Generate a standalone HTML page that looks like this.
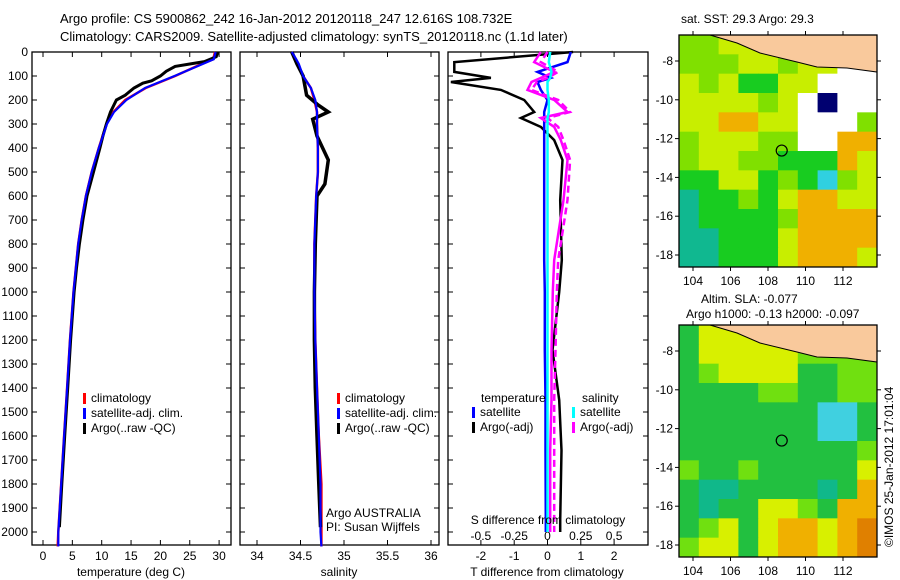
<!DOCTYPE html>
<html><head><meta charset="utf-8">
<style>
html,body{margin:0;padding:0;background:#fff;}
svg{display:block;font-family:"Liberation Sans",sans-serif;}
text{font-size:12px;fill:#000;}
</style></head>
<body>
<svg id="fig" width="900" height="580" viewBox="0 0 900 580">
<text x="60" y="23" style="font-size:13px">Argo profile: CS 5900862_242 16-Jan-2012 20120118_247 12.616S 108.732E</text>
<text x="60" y="41" style="font-size:13px">Climatology: CARS2009. Satellite-adjusted climatology: synTS_20120118.nc (1.1d later)</text>
<g id="g1"></g>
<g id="g2"></g>
<g id="g3"></g>
<g id="m1"></g>
<g id="m2"></g>
<text x="681" y="23">sat. SST: 29.3 Argo: 29.3</text>
<text x="701" y="303">Altim. SLA: -0.077</text>
<text x="686" y="318">Argo h1000: -0.13 h2000: -0.097</text>
<text transform="translate(893,547) rotate(-90)">©IMOS 25-Jan-2012 17:01:04</text>
</svg>
<script>
// ---------- data ----------
const depthTicks=[0,100,200,300,400,500,600,700,800,900,1000,1100,1200,1300,1400,1500,1600,1700,1800,1900,2000];
const tempTicks=[0,5,10,15,20,25,30];
const salTicks=[34,34.5,35,35.5,36];
const salTickLabels=["34","34.5","35","35.5","36"];
const tdiffTicks=[-2,-1,0,1,2];
const sdiffTicks=[-0.5,-0.25,0,0.25,0.5];
const sdiffTickLabels=["-0.5","-0.25","0","0.25","0.5"];

const argoDepth=[0,20,40,50,60,80,100,120,130,150,180,200,250,300,350,400,500,600,700,800,900,1000,1200,1400,1600,1800,1980];
const argoTemp=[29.8,29.5,27.5,25,22.5,21,20,18.5,17,15.5,14,12.5,11.5,10.8,10.2,9.7,8.6,7.5,6.8,6.2,5.7,5.3,4.7,4.2,3.7,3.2,2.8];
const climDepth=[0,30,50,100,150,200,250,300,400,500,600,700,800,1000,1200,1400,1600,1800,2000,2060];
const climTemp=[29.3,29,27,22.5,17.5,14,12,10.8,9.5,8.3,7.3,6.6,6.0,5.2,4.6,4.1,3.6,3.1,2.6,2.5];
const satTemp=[29.4,29.1,27.2,22.4,17.4,14.2,12.1,10.9,9.5,8.3,7.3,6.6,6.0,5.2,4.6,4.1,3.6,3.1,2.6,2.6];

const argoSalDepth=[0,50,100,180,220,250,280,350,450,550,600,800,1000,1200,1400,1600,1800,1980];
const argoSal=[34.40,34.46,34.53,34.57,34.70,34.82,34.64,34.69,34.82,34.78,34.69,34.67,34.66,34.66,34.67,34.69,34.71,34.73];
const climSal=[34.40,34.44,34.47,34.53,34.62,34.66,34.69,34.69,34.70,34.70,34.68,34.67,34.66,34.66,34.67,34.69,34.71,34.74,34.74,34.74];
const satSal=[34.40,34.45,34.48,34.53,34.62,34.67,34.69,34.69,34.70,34.70,34.68,34.67,34.66,34.66,34.67,34.69,34.71,34.73,34.73,34.74];

const diffDepth=[0,42,83,108,125,158,200,250,275,312,367,450,617,867,1000,1242,1450,1660,1950,2000];
const argoTdiff=[0.77,-2.8,-2.8,-1.7,-2.9,-1.4,-0.7,-0.4,-0.8,-0.2,0.2,0.45,0.38,0.43,0.35,0.15,0.35,0.42,0.38,0.38];
const satTdiff=[0.7,0.6,-0.3,0.1,-0.3,-0.2,0,-0.1,-0.1,-0.1,-0.1,-0.1,-0.1,-0.1,-0.08,-0.08,-0.06,-0.06,-0.05,-0.05];
const argoSdiff=[-0.05,-0.1,0.05,-0.05,-0.12,-0.15,0.05,0.15,-0.05,0.05,0.1,0.15,0.12,0.05,0.04,0.03,0.03,0.02,0.02,0.02];
const argoSdiffAdj=[0,-0.05,0.08,0,-0.08,-0.12,0.08,0.17,0,0.08,0.12,0.17,0.15,0.08,0.07,0.06,0.05,0.05,0.05,0.05];
const satSdiff=[0.02,0.01,0.03,0.02,0,0,0.01,0.01,0,0,0,0,0,0,0,0,0,0,0,0];

// map colour grids (letters -> palette)
const sstGrid=["ggYLLLLLLL","gggYYgYYWW","YgYGGYYWWW","YYYYgYWNWW","YYOOYYWWWg","gYYYggWWOO","gYYggGGGOY","GGYYGgGCgY","TGGgGYOOYY","TGGGGgOOOO","TTGGGYOOOO","TTGGGYOOOY"];
const slaGrid=["GYYLLLLLLL","GYYYYYgggg","GgYYYYGGgg","GGGGggGGgg","GGGGGGGCCG","GGGGGGGCCG","GGGGGGGGGg","gGGgGGGGGY","GTTGGGGTGO","GTGGYYgGOO","GgYGYOOYOD","gYYGYOOYOD"];
const mapLonTicks=[104,106,108,110,112];
const mapLatTicks=[-8,-10,-12,-14,-16,-18];
const argoLon=108.732, argoLat=-12.616;

// ---------- helpers ----------
const NS="http://www.w3.org/2000/svg";
function mk(tag,attrs,parent){const e=document.createElementNS(NS,tag);for(const k in attrs)e.setAttribute(k,attrs[k]);parent.appendChild(e);return e;}
const Y0=52,Y1=545;
const yD=d=>Y0+d*0.24;

function panelFrame(g,x0,x1,name){
  const r=mk('rect',{x:x0,y:Y0,width:x1-x0,height:Y1-Y0,fill:'none',stroke:'#000','stroke-width':1.3},g);
  
  
}
function line(g,xs,ds,xf,color,w,name,dash){
  const pts=xs.map((v,i)=>xf(v).toFixed(1)+','+yD(ds[i]).toFixed(1)).join(' ');
  const p=mk('polyline',{points:pts,fill:'none',stroke:color,'stroke-width':w},g);
  if(dash)p.setAttribute('stroke-dasharray',dash);
  
  
}
function xTicks(g,vals,labels,xf,ly,name){
  vals.forEach((v,i)=>{
    const x=xf(v);
    mk('line',{x1:x,y1:Y1,x2:x,y2:Y1-5,stroke:'#000'},g);
    mk('line',{x1:x,y1:Y0,x2:x,y2:Y0+5,stroke:'#000'},g);
    if(ly){const t=mk('text',{x:x,y:ly,'text-anchor':'middle'},g);t.textContent=labels[i];
    
    }
  });
}
function legend(g,x,y,items){
  items.forEach((it,i)=>{
    mk('rect',{x:x,y:y+i*15-9,width:3,height:11,fill:it[0]},g);
    const t=mk('text',{x:x+8,y:y+i*15},g);t.textContent=it[1];
    
    
  });
}

// ---------- panel 1 ----------
const g1=document.getElementById('g1');
const xT=t=>43+t*5.87;
panelFrame(g1,32,231,'temperature');
depthTicks.forEach(d=>{
  const y=yD(d);
  mk('line',{x1:32,y1:y,x2:37,y2:y,stroke:'#000'},g1);
  mk('line',{x1:231,y1:y,x2:226,y2:y,stroke:'#000'},g1);
  const t=mk('text',{x:28,y:y+4,'text-anchor':'end'},g1);t.textContent=d;
  
  
});
xTicks(g1,tempTicks,tempTicks.map(String),xT,560,'temperature');
line(g1,climTemp,climDepth,xT,'#f00',2.5,'temp-climatology-line');
line(g1,argoTemp,argoDepth,xT,'#000',3,'temp-argo-line');
line(g1,satTemp,climDepth,xT,'#00f',2.2,'temp-satellite-line');
legend(g1,83,402,[['#f00','climatology'],['#00f','satellite-adj. clim.'],['#000','Argo(..raw -QC)']]);
{const t=mk('text',{x:131,y:576,'text-anchor':'middle'},g1);t.textContent='temperature (deg C)';
}

// ---------- panel 2 ----------
const g2=document.getElementById('g2');
const xS=s=>257+(s-34)*87;
panelFrame(g2,240,439,'salinity');
depthTicks.forEach(d=>{const y=yD(d);
  mk('line',{x1:240,y1:y,x2:245,y2:y,stroke:'#000'},g2);
  mk('line',{x1:439,y1:y,x2:434,y2:y,stroke:'#000'},g2);});
xTicks(g2,salTicks,salTickLabels,xS,560,'salinity');
line(g2,climSal,climDepth,xS,'#f00',2.5,'sal-climatology-line');
line(g2,argoSal,argoSalDepth,xS,'#000',3.5,'sal-argo-line');
line(g2,satSal,climDepth,xS,'#00f',2.2,'sal-satellite-line');
legend(g2,337,402,[['#f00','climatology'],['#00f','satellite-adj. clim.'],['#000','Argo(..raw -QC)']]);
{const t=mk('text',{x:326,y:517},g2);t.textContent='Argo AUSTRALIA';
const t2=mk('text',{x:326,y:531},g2);t2.textContent='PI: Susan Wijffels';
const t3=mk('text',{x:339,y:576,'text-anchor':'middle'},g2);t3.textContent='salinity';}

// ---------- panel 3 ----------
const g3=document.getElementById('g3');
const xTd=v=>547.5+v*33.3;
const xSd=v=>547.5+v*133.2;
panelFrame(g3,448,648,'difference');
depthTicks.forEach(d=>{const y=yD(d);
  mk('line',{x1:448,y1:y,x2:453,y2:y,stroke:'#000'},g3);
  mk('line',{x1:648,y1:y,x2:643,y2:y,stroke:'#000'},g3);});
xTicks(g3,tdiffTicks,tdiffTicks.map(String),xTd,560,'tdiff');
sdiffTicks.forEach((v,i)=>{const t=mk('text',{x:xSd(v),y:540,'text-anchor':'middle'},g3);t.textContent=sdiffTickLabels[i];
  });
line(g3,argoTdiff,diffDepth,xTd,'#000',2.5,'tdiff-argo-line');
line(g3,satTdiff,diffDepth,xTd,'#00f',2.5,'tdiff-satellite-line');
line(g3,argoSdiff,diffDepth,xSd,'#f0f',2.5,'sdiff-argo-line');
line(g3,argoSdiffAdj,diffDepth,xSd,'#f0f',2.5,'sdiff-argo-adj-line','7,4');
line(g3,satSdiff,diffDepth,xSd,'#0ff',2.5,'sdiff-satellite-line');
{const t=mk('text',{x:481,y:402},g3);t.textContent='temperature';
const t2=mk('text',{x:582,y:402},g3);t2.textContent='salinity';}
legend(g3,472,416,[['#00f','satellite'],['#000','Argo(-adj)']]);
legend(g3,572,416,[['#0ff','satellite'],['#f0f','Argo(-adj)']]);
{const t=mk('text',{x:548,y:524,'text-anchor':'middle'},g3);t.textContent='S difference from climatology';
const t2=mk('text',{x:547,y:576,'text-anchor':'middle'},g3);t2.textContent='T difference from climatology';}

// ---------- maps ----------
const pal={L:'#f9c99c',W:'#ffffff',Y:'#c8ee00',g:'#80e000',G:'#18cc20',O:'#f0b000',T:'#10b890',C:'#30d0e0',N:'#000070',D:'#e08000'};
const slaPal=Object.assign({},pal,{G:'#22c040',g:'#70e010',Y:'#d8f000',T:'#10b88a',C:'#40d0e0'});
function drawMap(id,top,grid,p,name){
  const g=document.getElementById(id);
  const X0=679,X1=877,Yb=top+232;
  const lx=lon=>693+(lon-104)*18.75;
  const ly=lat=>top+26+(-8-lat)*19.4;
  const rows=grid.length,cols=grid[0].length,cw=(X1-X0)/cols,ch=(Yb-top)/rows;
  grid.forEach((row,r)=>row.split('').forEach((c,k)=>{
    const cell=mk('rect',{x:X0+k*cw,y:top+r*ch,width:cw+0.5,height:ch+0.5,fill:p[c]==='#f9c99c'?p.Y:p[c]},g);
    
    
  }));
  const coast=[[710,0],[737,8],[760,18],[797,27],[817,32],[847,33],[877,37],[877,0]].map(q=>q[0]+','+(top+q[1])).join(' ');
  const land=mk('polygon',{points:coast,fill:'#f9c99c',stroke:'#000','stroke-width':1},g);
  
  
  const fr=mk('rect',{x:X0,y:top,width:X1-X0,height:Yb-top,fill:'none',stroke:'#000','stroke-width':1.3},g);
  
  
  mapLonTicks.forEach(v=>{const x=lx(v);
    mk('line',{x1:x,y1:Yb,x2:x,y2:Yb+4,stroke:'#000'},g);
    mk('line',{x1:x,y1:top,x2:x,y2:top-4,stroke:'#000'},g);
    const t=mk('text',{x:x,y:Yb+18,'text-anchor':'middle'},g);t.textContent=v;
    });
  mapLatTicks.forEach(v=>{const y=ly(v);
    mk('line',{x1:X0,y1:y,x2:X0-4,y2:y,stroke:'#000'},g);
    mk('line',{x1:X1,y1:y,x2:X1+4,y2:y,stroke:'#000'},g);
    const t=mk('text',{x:X0-6,y:y+4,'text-anchor':'end'},g);t.textContent=v;
    });
  const c=mk('circle',{cx:lx(argoLon),cy:ly(argoLat),r:5.5,fill:'none',stroke:'#000','stroke-width':1.2},g);
  
  
}
drawMap('m1',35,sstGrid,pal,'sst-map');
drawMap('m2',325,slaGrid,slaPal,'sla-map');
</script>
</body></html>
